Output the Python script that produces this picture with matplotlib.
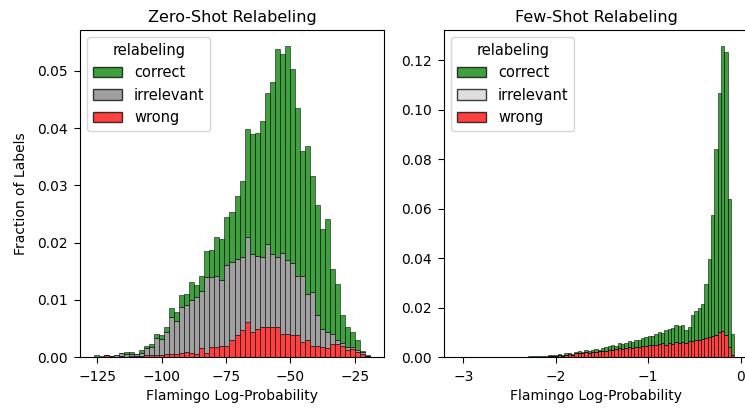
import numpy as np
import matplotlib.pyplot as plt
from matplotlib.patches import Patch

# %% data (fraction of labels per bin)
# zero-shot: 55 bins starting at -126.3, width 1.95
zs_start, zs_width = -126.3, 1.95
zs_wrong = [0, 0, .0003, .0001, 0, .0002, 0, .0001, .0001, .0002,
            .0003, .0003, .0004, .0004, .0006, .0006, .0006, .0007, .0009, .0007,
            .0006, .0015, .0007, .0017, .0017, .0020, .0019, .0029, .0038, .0047,
            .0061, .0044, .0049, .0052, .0052, .0053, .0052, .0041, .0040, .0038,
            .0038, .0026, .0030, .0020, .0020, .0017, .0016, .0023, .0022, .0020,
            .0012, .0014, .0009, .0006, .0001]
zs_irrelevant = [0, 0, 0, .0001, .0004, .0005, .0006, .0005, .0005, .0005,
                 .0012, .0014, .0030, .0027, .0038, .0064, .0057, .0080, .0081, .0092,
                 .0099, .0101, .0133, .0123, .0125, .0114, .0141, .0137, .0134, .0127,
                 .0149, .0136, .0128, .0122, .0146, .0127, .0122, .0140, .0129, .0126,
                 .0104, .0116, .0080, .0093, .0053, .0032, .0028, .0018, .0008, .0005,
                 .0006, .0004, .0004, .0002, .0001]
zs_correct = [.0003, .0002, 0, 0, 0, 0, .0002, .0002, 0, .0005,
              .0005, .0006, .0007, .0007, .0008, .0016, .0015, .0022, .0020, .0032,
              .0020, .0025, .0046, .0047, .0067, .0072, .0084, .0087, .0110, .0134,
              .0188, .0210, .0215, .0239, .0264, .0300, .0364, .0348, .0375, .0339,
              .0293, .0218, .0259, .0204, .0192, .0175, .0197, .0113, .0098, .0048,
              .0034, .0026, .0016, .0003, .0001]

# few-shot: 83 bins starting at -3.061, width 0.03605
fs_start, fs_width = -3.061, 0.03605
fs_wrong = [0, 0, 0, 0, 0, 0, 0, 0, 0, 0,
            0, 0, 0, .0001, 0, 0, 0, 0, 0, .0001,
            .0001, 0, .0001, 0, .0002, .0002, .0001, .0003, .0004, .0005,
            .0008, .0006, .0010, .0012, .0010, .0018, .0015, .0016, .0020, .0017,
            .0022, .0020, .0024, .0026, .0025, .0030, .0028, .0033, .0035, .0032,
            .0036, .0040, .0038, .0042, .0041, .0045, .0043, .0048, .0050, .0047,
            .0052, .0055, .0050, .0058, .0054, .0060, .0057, .0062, .0058, .0065,
            .0065, .0068, .0070, .0072, .0075, .0080, .0084, .0090, .0100, .0105,
            .0090, .0040, .0010]
fs_irrelevant = [0.0] * 83
fs_correct = [.0001, 0, .0001, 0, 0, .0001, 0, 0, .0001, 0,
              .0001, 0, 0, 0, 0, .0001, 0, .0001, .0001, 0,
              .0001, .0005, .0003, .0003, .0004, .0004, .0003, .0005, .0003, .0005,
              .0004, .0004, .0005, .0006, .0004, .0004, .0010, .0004, .0008, .0009,
              .0008, .0013, .0005, .0010, .0015, .0015, .0022, .0013, .0020, .0020,
              .0022, .0024, .0022, .0028, .0027, .0030, .0037, .0038, .0033, .0048,
              .0049, .0043, .0058, .0054, .0064, .0068, .0067, .0068, .0052, .0055,
              .0103, .0117, .0130, .0143, .0222, .0318, .0489, .0752, .0970, .1155,
              .1145, .0600, .0085]

labels = ['correct', 'irrelevant', 'wrong']


def stacked_hist(ax, start, width, wrong, irrelevant, correct, colors):
    n = len(wrong)
    x = start + width * np.arange(n)
    wrong = np.array(wrong)
    irrelevant = np.array(irrelevant)
    correct = np.array(correct)
    kw = dict(width=width, align='edge', alpha=0.75, edgecolor='black', linewidth=0.5)
    ax.bar(x, wrong, color=colors[2], **kw)
    ax.bar(x, irrelevant, bottom=wrong, color=colors[1], **kw)
    ax.bar(x, correct, bottom=wrong + irrelevant, color=colors[0], **kw)
    handles = [Patch(facecolor=c, edgecolor='black', alpha=0.75, linewidth=1.0) for c in colors]
    ax.legend(handles, labels, title='relabeling', loc='upper left', fontsize=10.5, title_fontsize=10.5)


plt.rcParams['font.family'] = 'DejaVu Sans'
plt.rcParams['xtick.labelsize'] = 10
plt.rcParams['ytick.labelsize'] = 10
plt.rcParams['xtick.major.size'] = 4.5
plt.rcParams['ytick.major.size'] = 4.5
plt.rcParams['xtick.major.pad'] = 4.5
plt.rcParams['ytick.major.pad'] = 4.5

fig = plt.figure(figsize=(7.45, 4.11), dpi=100)
ax1 = fig.add_axes([80 / 745, 54 / 411, 304 / 745, 327 / 411])
ax2 = fig.add_axes([444 / 745, 54 / 411, 304 / 745, 327 / 411])

stacked_hist(ax1, zs_start, zs_width, zs_wrong, zs_irrelevant, zs_correct,
             ['green', 'gray', 'red'])
ax1.set_title('Zero-Shot Relabeling', fontsize=11.5)
ax1.set_xlabel('Flamingo Log-Probability', fontsize=10)
ax1.set_ylabel('Fraction of Labels', fontsize=10, labelpad=6)
ax1.set_xticks([-125, -100, -75, -50, -25])

stacked_hist(ax2, fs_start, fs_width, fs_wrong, fs_irrelevant, fs_correct,
             ['green', 'lightgray', 'red'])
ax2.set_title('Few-Shot Relabeling', fontsize=11.5)
ax2.set_xlabel('Flamingo Log-Probability', fontsize=10)
ax2.set_xticks([-3, -2, -1, 0])
ax2.set_yticks([0, 0.02, 0.04, 0.06, 0.08, 0.10, 0.12])

fig.savefig('out.png', dpi=100)
